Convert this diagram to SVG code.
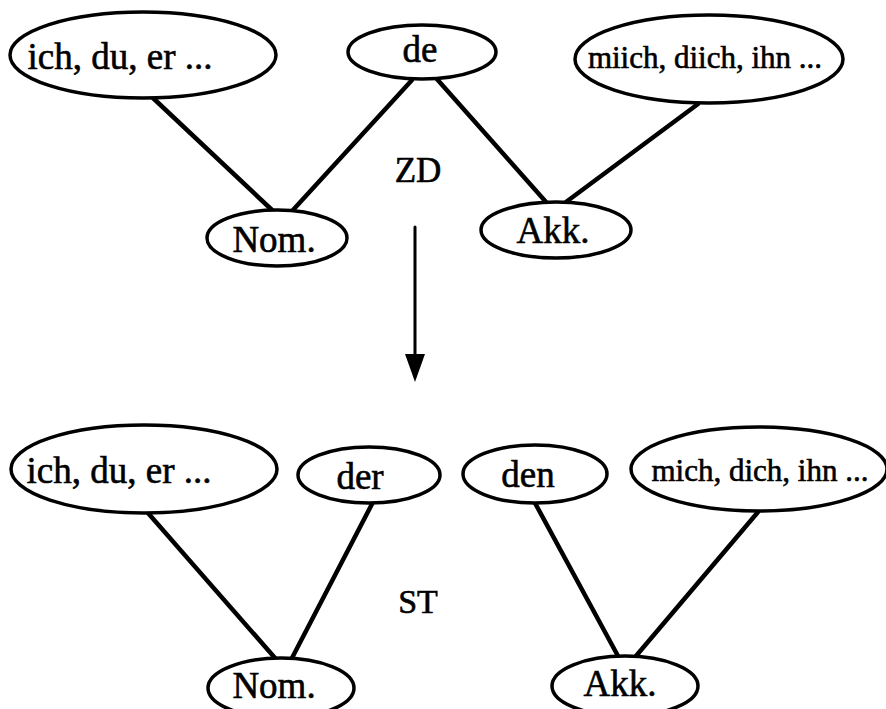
<svg xmlns="http://www.w3.org/2000/svg" width="886" height="709" viewBox="0 0 886 709">
<style>
.n ellipse{fill:#fff;stroke:#000;stroke-width:3.5}
text{font-family:"Liberation Serif","Times New Roman",serif;fill:#000;stroke:#000;stroke-width:0.6;text-anchor:middle}
.t{font-size:37px}
.s{font-size:31px}
.e line{stroke:#000;stroke-width:4.5;stroke-linecap:round}
</style>
<rect width="886" height="709" fill="#fff"/>
<g class="e" id="connectors">
<line x1="153" y1="98" x2="272" y2="210"/>
<line x1="412" y1="80" x2="293" y2="210"/>
<line x1="436" y1="78" x2="546" y2="202"/>
<line x1="698" y1="104" x2="566" y2="202"/>
<line x1="148" y1="513" x2="275" y2="658"/>
<line x1="372" y1="504" x2="292" y2="658"/>
<line x1="535" y1="503" x2="618" y2="656"/>
<line x1="758" y1="512" x2="636" y2="656"/>
<line x1="415" y1="227" x2="415" y2="356" style="stroke-width:3"/>
<polygon points="405,354 425,354 415,382" fill="#000"/>
</g>
<g class="n" id="z-pron-nom"><ellipse cx="143" cy="55" rx="133" ry="43"/><text class="t" x="120" y="69">ich, du, er ...</text></g>
<g class="n" id="z-de"><ellipse cx="422" cy="52" rx="74" ry="27"/><text class="t" x="420" y="62">de</text></g>
<g class="n" id="z-pron-akk"><ellipse cx="709" cy="59" rx="134" ry="44"/><text class="s" x="705" y="68">miich, diich, ihn ...</text></g>
<g class="n" id="z-nom"><ellipse cx="277" cy="238" rx="70" ry="28"/><text class="t" x="274" y="252">Nom.</text></g>
<g class="n" id="z-akk"><ellipse cx="556" cy="230" rx="75" ry="28"/><text class="t" x="553" y="243">Akk.</text></g>
<g id="label-zd"><text class="t" x="418" y="182" style="font-size:35px">ZD</text></g>
<g class="n" id="s-pron-nom"><ellipse cx="144" cy="469" rx="133" ry="44"/><text class="t" x="119" y="483">ich, du, er ...</text></g>
<g class="n" id="s-der"><ellipse cx="369" cy="475" rx="71" ry="28"/><text class="t" x="360" y="489">der</text></g>
<g class="n" id="s-den"><ellipse cx="535" cy="474" rx="72" ry="29"/><text class="t" x="528" y="487">den</text></g>
<g class="n" id="s-pron-akk"><ellipse cx="759" cy="469" rx="128" ry="42"/><text class="s" x="760" y="481">mich, dich, ihn ...</text></g>
<g class="n" id="s-nom"><ellipse cx="281" cy="688" rx="73" ry="30"/><text class="t" x="274" y="698">Nom.</text></g>
<g class="n" id="s-akk"><ellipse cx="625" cy="686" rx="73" ry="30"/><text class="t" x="620" y="696">Akk.</text></g>
<g id="label-st"><text class="t" x="418" y="613" style="font-size:34px">ST</text></g>
</svg>
